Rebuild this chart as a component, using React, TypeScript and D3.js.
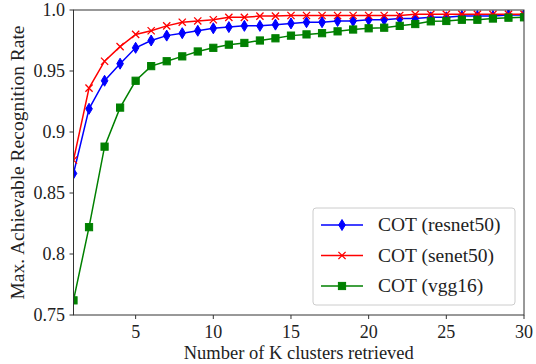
import * as d3 from "d3";

const kValues = d3.range(1, 31);

const resnet50 = [
  0.866, 0.919, 0.942, 0.956, 0.969, 0.975, 0.979, 0.981, 0.983, 0.985,
  0.986, 0.987, 0.987, 0.988, 0.989, 0.990, 0.990, 0.991, 0.991, 0.992,
  0.992, 0.993, 0.993, 0.994, 0.994, 0.995, 0.995, 0.995, 0.996, 0.996,
];
const senet50 = [
  0.877, 0.936, 0.958, 0.970, 0.980, 0.983, 0.987, 0.990, 0.991, 0.992,
  0.994, 0.994, 0.995, 0.995, 0.9955, 0.9955, 0.9955, 0.9955, 0.9955, 0.9955,
  0.9955, 0.9955, 0.9965, 0.9965, 0.9965, 0.9965, 0.9965, 0.9965, 0.9965, 0.9965,
];
const vgg16 = [
  0.762, 0.822, 0.888, 0.920, 0.942, 0.954, 0.958, 0.962, 0.966, 0.969,
  0.9716, 0.973, 0.975, 0.9768, 0.979, 0.980, 0.981, 0.9825, 0.984, 0.985,
  0.9855, 0.987, 0.9885, 0.9907, 0.991, 0.992, 0.992, 0.993, 0.9937, 0.994,
];

const seriesNames = ["COT (resnet50)", "COT (senet50)", "COT (vgg16)"];
const seriesColors = ["#0000ff", "#ff0000", "#008000"];
const seriesMarkers = ["diamond", "x", "square"];

const xTicks = [5, 10, 15, 20, 25, 30];
const yTicks = [0.75, 0.8, 0.85, 0.9, 0.95, 1.0];
const yTickLabels = ["0.75", "0.8", "0.85", "0.9", "0.95", "1.0"];

const FONT = "Liberation Serif, DejaVu Serif, serif";

function Marker({ kind, x, y, color }: { kind: string; x: number; y: number; color: string }) {
  if (kind === "diamond") {
    return (
      <path
        d={`M${x},${y - 5.5}L${x + 3.3},${y}L${x},${y + 5.5}L${x - 3.3},${y}Z`}
        fill={color}
        stroke={color}
        strokeWidth={1}
      />
    );
  }
  if (kind === "x") {
    const s = 3.6;
    return (
      <path
        d={`M${x - s},${y - s}L${x + s},${y + s}M${x - s},${y + s}L${x + s},${y - s}`}
        stroke={color}
        strokeWidth={1.3}
        fill="none"
      />
    );
  }
  return <rect x={x - 3.6} y={y - 3.6} width={7.2} height={7.2} fill={color} stroke={color} strokeWidth={1} />;
}

export default function App() {
  const width = 536;
  const height = 364;
  const left = 73.5;
  const right = 524;
  const top = 10;
  const bottom = 315;

  const x = d3.scaleLinear().domain([1, 30]).range([left, right]);
  const y = d3.scaleLinear().domain([0.75, 1.0]).range([bottom, top]);

  const series = [resnet50, senet50, vgg16];
  const line = d3
    .line<number>()
    .x((_, i) => x(kValues[i]))
    .y((d) => y(d));

  const legendX = 313;
  const legendY = 208;
  const rowGap = 30.5;

  return (
    <svg
      width={width}
      height={height}
      fontFamily={FONT}
      style={{ position: "absolute", left: 0, top: 0 }}
    >
      <defs>
        <clipPath id="plot-clip">
          <rect x={left} y={top} width={right - left} height={bottom - top} />
        </clipPath>
      </defs>
      <rect width={width} height={height} fill="#fff" />

      <g clipPath="url(#plot-clip)">
        {series.map((vals, si) => (
          <g key={si}>
            <path d={line(vals) ?? ""} fill="none" stroke={seriesColors[si]} strokeWidth={1.5} />
            {vals.map((v, i) => (
              <Marker key={i} kind={seriesMarkers[si]} x={x(kValues[i])} y={y(v)} color={seriesColors[si]} />
            ))}
          </g>
        ))}
      </g>

      <rect x={left} y={top} width={right - left} height={bottom - top} fill="none" stroke="#333" strokeWidth={1} />

      {xTicks.map((t) => (
        <g key={t}>
          <line x1={x(t)} x2={x(t)} y1={bottom} y2={bottom + 4} stroke="#333" />
          <text x={x(t)} y={338} textAnchor="middle" fontSize={18} fill="#222">
            {t}
          </text>
        </g>
      ))}
      {yTicks.map((t, i) => (
        <g key={t}>
          <line x1={left - 4} x2={left} y1={y(t)} y2={y(t)} stroke="#333" />
          <text x={65} y={y(t) + 6} textAnchor="end" fontSize={18} fill="#222">
            {yTickLabels[i]}
          </text>
        </g>
      ))}

      <text x={(left + right) / 2} y={359} textAnchor="middle" fontSize={18.5} fill="#222">
        Number of K clusters retrieved
      </text>
      <text
        transform={`translate(24, ${(top + bottom) / 2}) rotate(-90)`}
        textAnchor="middle"
        fontSize={19.5}
        fill="#222"
      >
        Max. Achievable Recognition Rate
      </text>

      <rect
        x={legendX}
        y={legendY}
        width={202}
        height={97}
        rx={3}
        fill="#fff"
        fillOpacity={0.8}
        stroke="#ccc"
      />
      {seriesNames.map((name, i) => {
        const ry = 225 + i * rowGap;
        return (
          <g key={name}>
            <line x1={321} x2={363} y1={ry} y2={ry} stroke={seriesColors[i]} strokeWidth={1.5} />
            <Marker kind={seriesMarkers[i]} x={342} y={ry} color={seriesColors[i]} />
            <text x={378} y={ry + 6} fontSize={19.5} fill="#222">
              {name}
            </text>
          </g>
        );
      })}
    </svg>
  );
}
